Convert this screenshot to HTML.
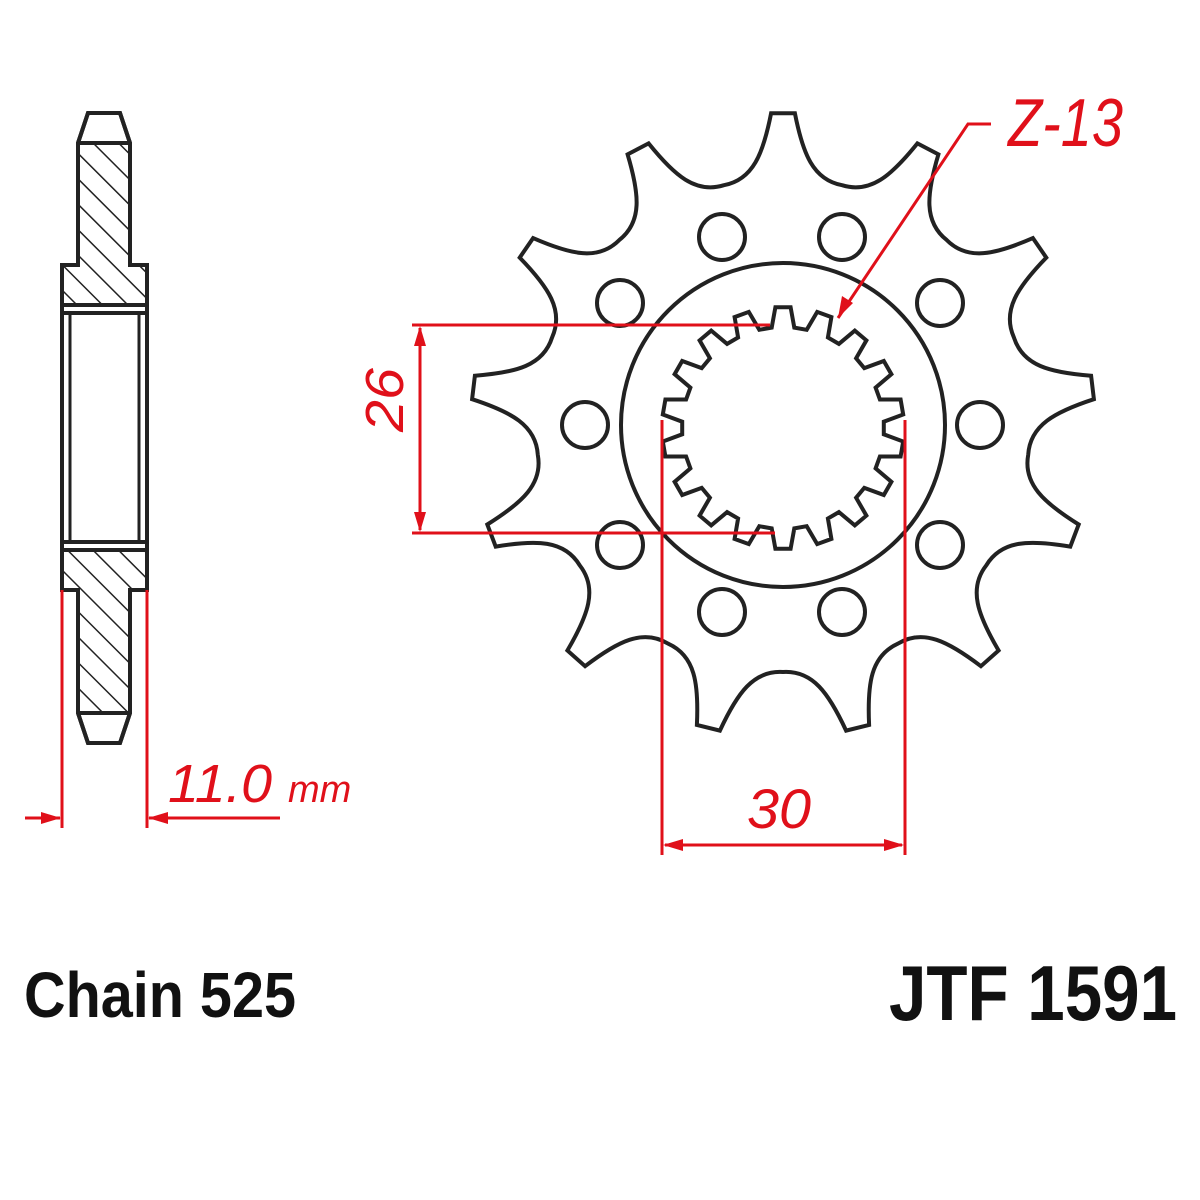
<!DOCTYPE html>
<html><head><meta charset="utf-8"><style>
html,body{margin:0;padding:0;background:#fff;width:1200px;height:1200px;overflow:hidden}
svg{display:block}
</style></head><body>
<svg id="s" width="1200" height="1200" viewBox="0 0 1200 1200" xmlns="http://www.w3.org/2000/svg">
<defs>
<pattern id="h" patternUnits="userSpaceOnUse" width="18" height="18" patternTransform="rotate(-45)">
<line x1="0" y1="0" x2="0" y2="18" stroke="#222" stroke-width="3"/>
</pattern>
</defs>
<g fill="none" stroke="#222" stroke-width="4">
<path d="M88 113 L120 113 L130 143 L130 265 L147 265 L147 590 L130 590 L130 713 L120 743 L88 743 L78 713 L78 590 L62 590 L62 265 L78 265 L78 143 Z" fill="#fff"/>
<rect x="78" y="143" width="52" height="122" fill="url(#h)" stroke="none"/>
<rect x="62" y="265" width="85" height="40" fill="url(#h)" stroke="none"/>
<rect x="62" y="550" width="85" height="40" fill="url(#h)" stroke="none"/>
<rect x="78" y="590" width="52" height="123" fill="url(#h)" stroke="none"/>
<line x1="78" y1="143" x2="130" y2="143"/>
<line x1="78" y1="713" x2="130" y2="713"/>
<line x1="62" y1="305" x2="147" y2="305"/>
<line x1="62" y1="313" x2="147" y2="313"/>
<line x1="62" y1="542" x2="147" y2="542"/>
<line x1="62" y1="550" x2="147" y2="550"/>
<line x1="70" y1="313" x2="70" y2="542" stroke-width="3"/>
<line x1="139" y1="313" x2="139" y2="542" stroke-width="3"/>
<path d="M88 113 L120 113 L130 143 L130 265 L147 265 L147 590 L130 590 L130 713 L120 743 L88 743 L78 713 L78 590 L62 590 L62 265 L78 265 L78 143 Z"/>
<path id="outer"/>
<circle cx="783" cy="425" r="162"/>
<path id="spl"/>
<g id="holes"></g>
</g>
<g stroke="#e0101a" stroke-width="3" fill="none">
<line x1="412" y1="325" x2="770" y2="325"/>
<line x1="412" y1="533" x2="775" y2="533"/>
<line x1="420" y1="328" x2="420" y2="530"/>
<line x1="662" y1="420" x2="662" y2="855"/>
<line x1="905" y1="420" x2="905" y2="855"/>
<line x1="665" y1="845" x2="902" y2="845"/>
<line x1="62" y1="590" x2="62" y2="828"/>
<line x1="147" y1="590" x2="147" y2="828"/>
<line x1="25" y1="818" x2="60" y2="818"/>
<line x1="149" y1="818" x2="280" y2="818"/>
<polyline points="838,318 968,124 991,124"/>
</g>
<g fill="#e0101a">
<polygon points="420,326 414,346 426,346"/>
<polygon points="420,532 414,512 426,512"/>
<polygon points="663,845 683,839 683,851"/>
<polygon points="904,845 884,839 884,851"/>
<polygon points="61,818 41,812 41,824"/>
<polygon points="148,818 168,812 168,824"/>
<polygon points="838,318 842,296 853,303"/>
</g>
<g fill="#e0101a" font-family="Liberation Sans, sans-serif" font-style="italic">
<text x="1008" y="146" font-size="68" textLength="115" lengthAdjust="spacingAndGlyphs">Z-13</text>
<text x="747" y="828" font-size="56" textLength="64" lengthAdjust="spacingAndGlyphs">30</text>
<text x="168" y="802" font-size="54" textLength="104" lengthAdjust="spacingAndGlyphs">11.0</text>
<text x="288" y="802" font-size="38">mm</text>
<text transform="translate(403,432) rotate(-90)" font-size="54" textLength="64" lengthAdjust="spacingAndGlyphs">26</text>
</g>
<g fill="#111" font-family="Liberation Sans, sans-serif" font-weight="bold">
<text x="24" y="1017" font-size="64" textLength="272" lengthAdjust="spacingAndGlyphs">Chain 525</text>
<text x="889" y="1020" font-size="78" textLength="288" lengthAdjust="spacingAndGlyphs">JTF 1591</text>
</g>
</svg>
<script>
(function(){
var cx=783,cy=425,N=13,Rt=312,Rv=247,d="";
function pt(r,ang){return (cx+r*Math.cos(ang)).toFixed(1)+" "+(cy+r*Math.sin(ang)).toFixed(1);}
var p=2*Math.PI/N,w=0.038,h=p/2;
for(var k=0;k<N;k++){
 var a=-Math.PI/2+k*p;
 if(k==0)d+="M"+pt(Rt,a-w);
 d+=" L"+pt(Rt,a+w);
 d+=" C"+pt(Rt-40,a+w+0.035)+" "+pt(Rv,a+h-0.12)+" "+pt(Rv,a+h);
 d+=" C"+pt(Rv,a+h+0.12)+" "+pt(Rt-40,a+p-w-0.035)+" "+pt(Rt,a+p-w);
}
document.getElementById("outer").setAttribute("d",d+"Z");
var M=18,Ro=121,Ri=101,s="";
for(var k=0;k<M;k++){
 var a=-Math.PI/2+k*2*Math.PI/M,q=2*Math.PI/M;
 function P(r,ang){return (cx+r*Math.cos(ang)).toFixed(1)+" "+(cy+3+r*Math.sin(ang)).toFixed(1);}
 s+=(k?" L":"M")+P(Ro,a-q*0.18)+" L"+P(Ro,a+q*0.18)+" L"+P(Ri,a+q*0.32)+" L"+P(Ri,a+q*0.68);
}
document.getElementById("spl").setAttribute("d",s+"Z");
var g=document.getElementById("holes"),hh="";
var pts=[[722,237],[842,237],[620,303],[940,303],[585,425],[980,425],[620,545],[940,545],[722,612],[842,612]];
pts.forEach(function(p){hh+='<circle cx="'+p[0]+'" cy="'+p[1]+'" r="23"/>';});
g.innerHTML=hh;
})();
</script>
</body></html>
